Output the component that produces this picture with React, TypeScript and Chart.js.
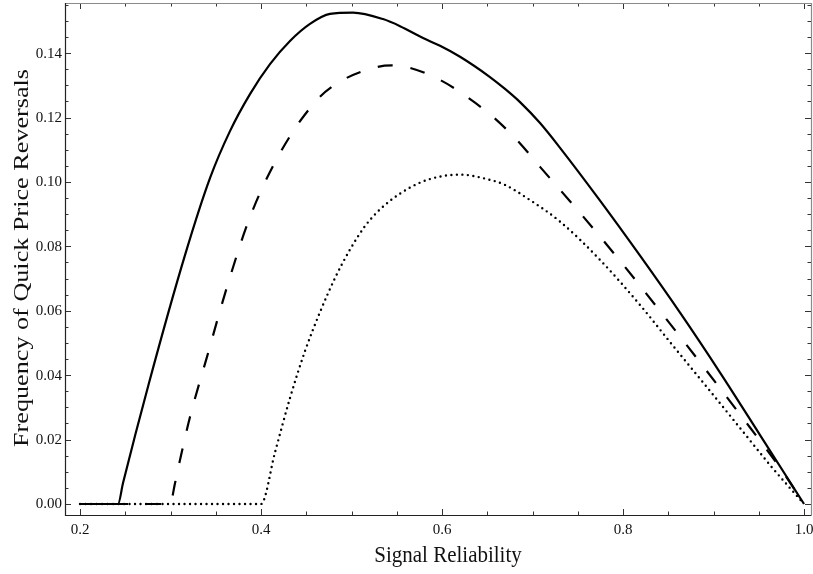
import { useEffect, useRef } from "react";
import { Chart, registerables } from "chart.js";

Chart.register(...registerables);

// Solid curve
const solidX = [0.2, 0.242, 0.2475, 0.2762, 0.316, 0.3436, 0.3657, 0.3878, 0.4099, 0.432, 0.4541, 0.4762, 0.5017, 0.5348, 0.5536, 0.579, 0.5978, 0.6199, 0.653, 0.6696, 0.6862, 0.7083, 0.7304, 0.7746, 0.8188, 0.863, 0.9072, 0.9514, 1.0];
const solidY = [0, 0, 0.0065, 0.0376, 0.0773, 0.1012, 0.1158, 0.1273, 0.1366, 0.1438, 0.1491, 0.1522, 0.1526, 0.1506, 0.1484, 0.1447, 0.1423, 0.1389, 0.1326, 0.1289, 0.1248, 0.1183, 0.1106, 0.0942, 0.0771, 0.0594, 0.0408, 0.0214, 0];

// Dashed curve
const dashX = [0.2, 0.2994, 0.305, 0.3105, 0.3215, 0.3403, 0.3624, 0.3878, 0.421, 0.4619, 0.4906, 0.5282, 0.5448, 0.5613, 0.5978, 0.6276, 0.6564, 0.6829, 0.7083, 0.7525, 0.7967, 0.8409, 0.8851, 0.9293, 0.9735, 1.0];
const dashY = [0, 0, 0.0065, 0.0137, 0.027, 0.0457, 0.0674, 0.0891, 0.109, 0.1255, 0.1317, 0.1357, 0.1362, 0.1357, 0.1317, 0.1264, 0.1202, 0.113, 0.1047, 0.0904, 0.0755, 0.0599, 0.044, 0.0278, 0.0112, 0];

// Dotted curve
const dotX = [0.2, 0.4, 0.4155, 0.432, 0.4486, 0.4652, 0.4818, 0.4983, 0.5149, 0.5315, 0.5536, 0.5757, 0.5978, 0.6199, 0.6497, 0.6696, 0.6939, 0.7304, 0.7746, 0.8188, 0.8519, 0.8906, 0.9293, 0.9624, 1.0];
const dotY = [0, 0, 0.0161, 0.0329, 0.0475, 0.0596, 0.0702, 0.079, 0.0863, 0.0915, 0.0964, 0.0998, 0.1017, 0.1023, 0.1009, 0.0991, 0.095, 0.0877, 0.0758, 0.0618, 0.0503, 0.037, 0.0236, 0.0121, 0];

const xTickValues = [0.2, 0.4, 0.6, 0.8, 1.0];
const xTickLabels = ["0.2", "0.4", "0.6", "0.8", "1.0"];
const yTickValues = [0, 0.02, 0.04, 0.06, 0.08, 0.1, 0.12, 0.14];
const yTickLabels = ["0.00", "0.02", "0.04", "0.06", "0.08", "0.10", "0.12", "0.14"];
const xTitle = "Signal Reliability";
const yTitle = "Frequency of Quick Price Reversals";

const pts = (xs: number[], ys: number[]) => xs.map((x, i) => ({ x, y: ys[i] }));

const SERIF = '"Liberation Serif", "Times New Roman", serif';

const framePlugin = {
  id: "mmaFrame",
  afterDraw(chart: any) {
    const { ctx, chartArea: a, scales } = chart;
    const xs = scales.x;
    const ys = scales.y;
    ctx.save();
    // ticks (inward, all four sides)
    ctx.strokeStyle = "#333";
    ctx.lineWidth = 1;
    ctx.beginPath();
    for (let i = 0; i <= 16; i++) {
      const v = 0.2 + i * 0.05;
      const len = i % 4 === 0 ? 6 : 3.5;
      const px = Math.round(xs.getPixelForValue(v)) + 0.5;
      ctx.moveTo(px, a.bottom);
      ctx.lineTo(px, a.bottom - len);
      ctx.moveTo(px, a.top);
      ctx.lineTo(px, a.top + len);
    }
    for (let i = 0; i <= 31; i++) {
      const v = i * 0.005;
      const len = i % 4 === 0 ? 6 : 3.5;
      const py = Math.round(ys.getPixelForValue(v)) + 0.5;
      ctx.moveTo(a.left, py);
      ctx.lineTo(a.left + len, py);
      ctx.moveTo(a.right, py);
      ctx.lineTo(a.right - len, py);
    }
    ctx.stroke();
    // frame
    ctx.lineWidth = 1.2;
    ctx.strokeStyle = "#8a8a8a";
    ctx.beginPath();
    ctx.moveTo(a.left, a.top + 0.5);
    ctx.lineTo(a.right + 0.5, a.top + 0.5);
    ctx.lineTo(a.right + 0.5, a.bottom);
    ctx.stroke();
    ctx.strokeStyle = "#222";
    ctx.beginPath();
    ctx.moveTo(a.left + 0.5, a.top);
    ctx.lineTo(a.left + 0.5, a.bottom + 0.5);
    ctx.lineTo(a.right + 0.5, a.bottom + 0.5);
    ctx.stroke();
    // tick labels
    ctx.fillStyle = "#111";
    ctx.font = `15px ${SERIF}`;
    ctx.textAlign = "center";
    ctx.textBaseline = "alphabetic";
    xTickValues.forEach((v, i) => {
      ctx.fillText(xTickLabels[i], xs.getPixelForValue(v), a.bottom + 18.5);
    });
    ctx.textAlign = "right";
    ctx.textBaseline = "middle";
    yTickValues.forEach((v, i) => {
      ctx.fillText(yTickLabels[i], a.left - 3, ys.getPixelForValue(v) + 0.5);
    });
    // axis titles
    ctx.fillStyle = "#111";
    ctx.textBaseline = "alphabetic";
    ctx.textAlign = "center";
    ctx.save();
    ctx.translate((a.left + a.right) / 2 + 10, 562);
    ctx.scale(1, 1.13);
    ctx.font = `21px ${SERIF}`;
    ctx.fillText(xTitle, 0, 0);
    ctx.restore();
    ctx.save();
    ctx.translate(28, 258);
    ctx.rotate(-Math.PI / 2);
    ctx.scale(1.19, 1);
    ctx.font = `22px ${SERIF}`;
    ctx.fillText(yTitle, 0, 0);
    ctx.restore();
    ctx.restore();
  },
};

export default function App() {
  const ref = useRef<HTMLCanvasElement | null>(null);
  useEffect(() => {
    document.body.style.margin = "0";
    const canvas = ref.current;
    if (!canvas) return;
    const chart = new Chart(canvas, {
      type: "line",
      data: {
        datasets: [
          {
            data: pts(solidX, solidY),
            borderColor: "#000",
            borderWidth: 2.2,
            pointRadius: 0,
            fill: false,
            cubicInterpolationMode: "monotone",
          },
          {
            data: pts(dashX, dashY),
            borderColor: "#000",
            borderWidth: 2.2,
            borderDash: [15, 18],
            pointRadius: 0,
            fill: false,
            cubicInterpolationMode: "monotone",
          },
          {
            data: pts(dotX, dotY),
            borderColor: "#000",
            borderWidth: 2.4,
            borderDash: [0, 5.5],
            borderCapStyle: "round",
            pointRadius: 0,
            fill: false,
            cubicInterpolationMode: "monotone",
          },
        ],
      },
      options: {
        animation: false,
        responsive: false,
        layout: { padding: { left: 65, right: 2, top: 3, bottom: 59 } },
        plugins: { legend: { display: false }, tooltip: { enabled: false } },
        scales: {
          x: { type: "linear", min: 0.1834, max: 1.0077, display: false },
          y: { type: "linear", min: -0.00342, max: 0.15559, display: false },
        },
      },
      plugins: [framePlugin],
    } as any);
    return () => chart.destroy();
  }, []);
  return (
    <div style={{ width: 813, height: 574 }}>
      <canvas ref={ref} width={813} height={574} style={{ display: "block" }} />
    </div>
  );
}
